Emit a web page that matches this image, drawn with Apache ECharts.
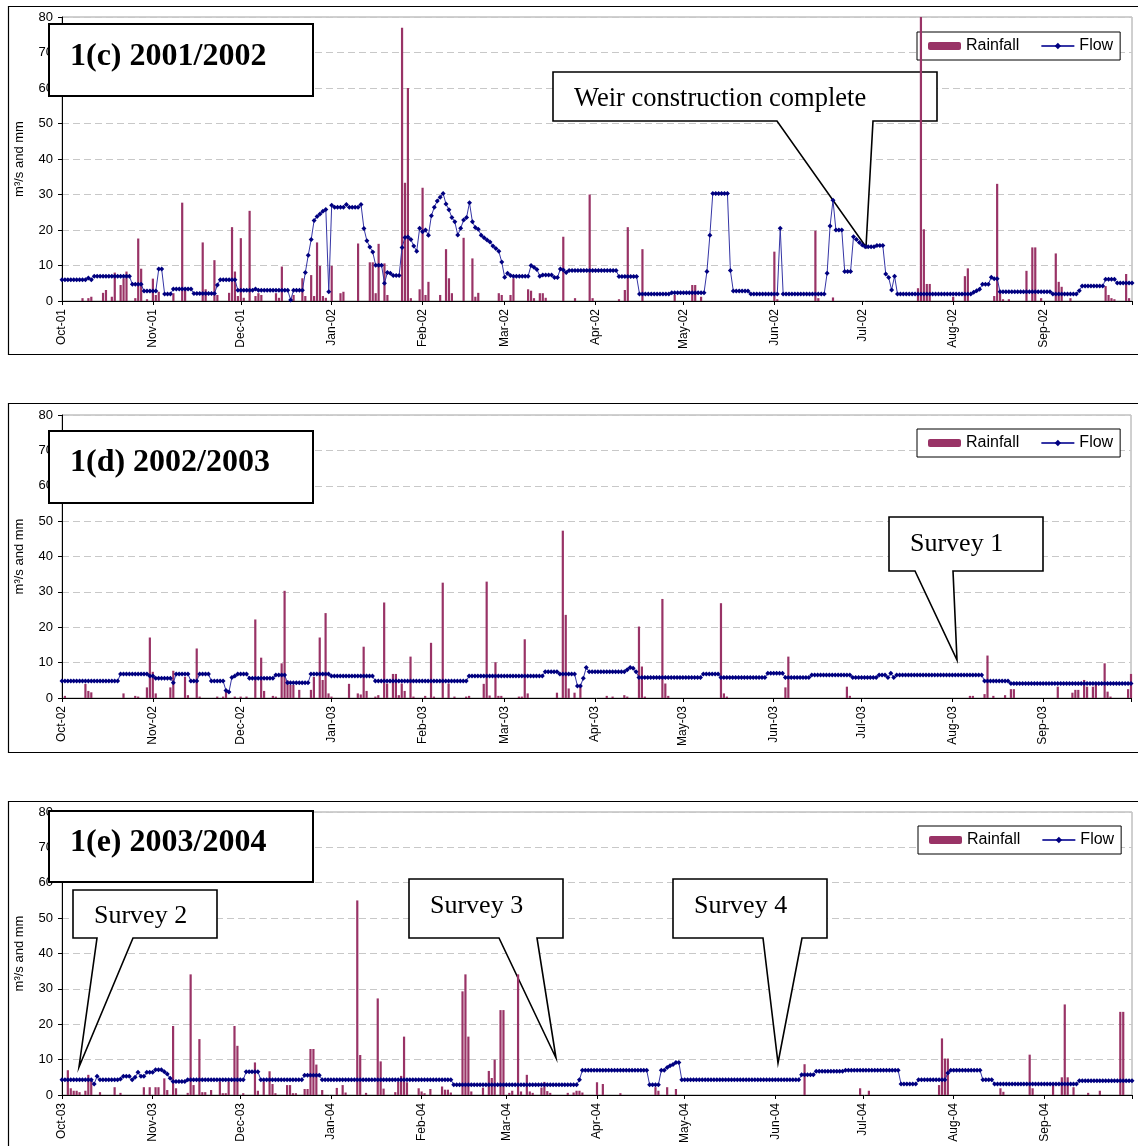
<!DOCTYPE html>
<html>
<head>
<meta charset="utf-8">
<title>Rainfall and flow 2001-2004</title>
<script src="https://cdn.jsdelivr.net/npm/echarts@6/dist/echarts.min.js"></script>
<style>
html, body { margin: 0; padding: 0; background: #fff; overflow: hidden; }
#main { width: 1138px; height: 1146px; }
</style>
</head>
<body>
<div id="main"></div>
<script>
var monthNames = ['Jan', 'Feb', 'Mar', 'Apr', 'May', 'Jun', 'Jul', 'Aug', 'Sep', 'Oct', 'Nov', 'Dec'];
var startYears = [2001, 2002, 2003];
var panelTitles = ['1(c) 2001/2002', '1(d) 2002/2003', '1(e) 2003/2004'];

// flow: [day from 1 Oct, m3/s], the value holds until the next entry
var flow1 = [[0,6.0],[9,6.5],[10,6.0],[11,7.0],[24,4.7],[28,2.8],[33,9.0],[35,2.0],[38,3.4],[45,2.1],[53,4.5],[54,6.0],[60,3.0],[66,3.4],[67,3.0],[78,0.3],[79,3.0],[83,8.0],[84,12.9],[85,17.3],[86,22.7],[87,23.8],[88,24.5],[89,25.3],[90,25.8],[91,2.6],[92,27.0],[93,26.4],[97,27.2],[98,26.4],[102,27.2],[103,20.4],[104,17.0],[105,15.2],[106,13.8],[107,10.1],[110,5.0],[111,8.0],[112,7.8],[113,7.2],[116,15.1],[117,17.9],[118,18.0],[119,17.3],[120,15.5],[121,14.0],[122,20.5],[123,19.5],[124,20.0],[125,18.5],[126,24.0],[127,26.4],[128,28.2],[129,29.2],[130,30.3],[131,27.3],[132,25.7],[133,23.5],[134,22.3],[135,18.6],[136,20.5],[137,22.8],[138,23.5],[139,27.7],[140,22.3],[141,20.7],[142,20.2],[143,18.5],[144,17.8],[145,17.2],[146,16.6],[147,15.5],[148,14.8],[149,14.0],[150,11.0],[151,6.7],[152,7.8],[153,7.2],[154,7.0],[160,10.0],[161,9.5],[162,8.9],[163,7.0],[164,7.3],[168,6.6],[170,9.0],[171,8.7],[172,8.0],[173,8.6],[190,6.9],[197,2.0],[208,2.3],[220,8.3],[221,18.5],[222,30.3],[228,8.6],[229,2.8],[235,2.0],[245,20.5],[246,2.0],[261,7.8],[262,21.1],[263,28.4],[264,20.0],[267,8.3],[270,18.1],[271,17.3],[272,16.5],[273,15.8],[274,15.3],[278,15.6],[281,7.6],[282,6.6],[283,3.1],[284,7.0],[285,2.0],[311,2.5],[312,2.9],[313,3.3],[314,4.7],[317,6.7],[318,6.3],[320,2.6],[338,2.0],[347,2.9],[348,4.2],[356,6.1],[360,5.1]];
var flow2 = [[0,4.8],[20,6.8],[30,6.2],[32,5.6],[38,4.3],[39,6.8],[44,4.8],[47,6.8],[51,4.8],[56,2.1],[57,1.7],[58,5.8],[59,6.2],[60,6.8],[64,5.6],[73,6.5],[77,4.3],[85,6.8],[92,6.2],[107,4.8],[139,6.2],[165,7.4],[170,6.8],[176,3.4],[178,5.6],[179,8.6],[180,7.4],[193,8.0],[194,8.6],[195,8.4],[196,7.4],[197,5.8],[219,6.8],[225,5.8],[241,7.0],[247,5.8],[256,6.5],[270,5.8],[279,6.5],[282,5.8],[283,7.0],[284,5.8],[285,6.5],[315,4.8],[324,4.1]];
var flow3 = [[0,4.3],[11,3.1],[12,5.3],[13,4.3],[20,4.5],[21,5.3],[24,4.3],[25,5.0],[26,6.4],[27,5.3],[29,6.4],[32,7.1],[35,6.6],[36,5.9],[37,4.7],[38,3.8],[43,4.3],[63,6.6],[68,4.3],[83,5.6],[89,4.3],[134,2.9],[177,4.3],[178,7.0],[201,2.9],[205,7.0],[207,7.8],[208,8.3],[209,8.6],[210,9.2],[212,4.3],[253,5.7],[258,6.7],[268,7.0],[287,3.1],[293,4.3],[303,6.2],[304,7.0],[315,4.3],[319,3.1],[348,4.0]];

// rainfall: [day from 1 Oct, mm], days not listed had no rain
var rain1 = [[7,0.8],[9,0.8],[10,1.2],[14,2.3],[15,3.1],[17,1.2],[18,8.0],[20,4.5],[21,6.4],[22,8.3],[25,0.8],[26,17.6],[27,9.1],[29,0.5],[31,6.3],[32,1.7],[33,2.6],[38,2.2],[41,27.7],[42,3.1],[48,16.5],[49,3.3],[52,11.5],[53,1.7],[57,2.3],[58,20.8],[59,8.3],[60,1.4],[61,17.7],[62,0.9],[64,25.4],[66,1.4],[67,2.2],[68,1.7],[73,2.2],[74,0.9],[75,9.7],[79,1.7],[82,6.4],[83,1.4],[85,7.3],[86,1.4],[87,16.5],[88,9.9],[89,1.4],[90,0.9],[92,9.9],[95,2.2],[96,2.6],[101,16.2],[105,10.9],[106,10.9],[107,2.2],[108,16.1],[110,10.6],[111,1.7],[116,77.0],[117,33.3],[118,60.0],[119,0.8],[122,3.3],[123,31.9],[124,1.7],[125,5.4],[129,1.7],[131,14.6],[132,6.4],[133,2.2],[137,17.8],[140,12.0],[141,1.2],[142,2.3],[149,2.2],[150,1.7],[153,1.7],[154,6.4],[159,3.3],[160,2.9],[161,0.8],[163,2.2],[164,2.2],[165,0.9],[171,18.1],[175,0.8],[180,30.0],[181,0.8],[190,0.5],[192,3.1],[193,20.8],[198,14.6],[209,1.7],[215,4.5],[216,4.5],[218,1.2],[243,13.9],[244,0.5],[257,19.8],[258,0.8],[263,1.0],[292,3.6],[293,85.0],[294,20.2],[295,4.8],[296,4.8],[304,1.2],[308,7.0],[309,9.2],[318,1.4],[319,33.0],[320,2.2],[321,0.5],[323,0.5],[329,8.5],[331,15.1],[332,15.1],[334,0.8],[339,13.4],[340,5.4],[341,4.0],[344,0.8],[356,4.2],[357,1.7],[358,0.8],[359,0.5],[363,7.6],[364,0.8]];
var rain2 = [[1,0.6],[8,4.0],[9,2.0],[10,1.6],[21,1.3],[25,0.6],[26,0.4],[29,3.0],[30,17.1],[31,7.4],[32,1.3],[37,3.0],[38,7.7],[42,6.0],[43,0.8],[46,14.0],[47,0.4],[53,0.4],[55,0.4],[56,1.8],[59,0.4],[61,0.4],[63,0.4],[66,22.2],[68,11.4],[69,2.0],[72,0.6],[73,0.4],[75,9.8],[76,30.3],[77,5.0],[78,3.7],[79,3.7],[81,2.3],[85,2.3],[86,6.0],[88,17.1],[89,5.1],[90,24.0],[91,1.3],[92,0.4],[98,4.0],[101,1.3],[102,1.0],[103,14.5],[104,2.0],[107,0.4],[108,0.8],[110,27.0],[111,4.1],[113,6.8],[114,6.8],[115,0.8],[116,4.1],[117,2.0],[119,11.7],[120,0.4],[124,0.6],[126,15.6],[127,0.4],[130,32.6],[132,4.1],[134,0.4],[138,0.4],[139,0.6],[144,4.0],[145,32.9],[146,0.7],[148,10.1],[149,0.6],[150,0.6],[156,0.4],[157,0.4],[158,16.6],[159,1.3],[169,1.5],[171,47.3],[172,23.5],[173,2.7],[175,1.5],[177,3.2],[186,0.6],[188,0.4],[192,0.8],[193,0.4],[197,20.2],[198,8.9],[199,0.4],[205,28.0],[206,4.1],[207,0.6],[225,26.8],[226,1.3],[227,0.4],[247,3.0],[248,11.7],[268,3.2],[269,0.6],[310,0.6],[311,0.6],[315,1.1],[316,12.0],[318,0.6],[322,0.8],[324,2.5],[325,2.5],[340,3.2],[345,1.5],[346,2.3],[347,2.3],[349,5.1],[350,3.2],[352,3.2],[353,3.7],[356,9.8],[357,1.8],[358,0.4],[364,2.5],[365,6.8]];
var rain3 = [[2,7.0],[3,1.9],[4,1.2],[5,1.2],[6,0.8],[8,1.2],[9,5.7],[10,4.0],[13,0.8],[18,2.2],[20,0.6],[28,2.2],[30,2.2],[32,2.2],[33,2.2],[35,4.7],[36,1.4],[38,19.5],[39,1.9],[43,0.6],[44,34.1],[45,2.8],[47,15.8],[48,0.8],[49,0.8],[51,1.4],[54,3.8],[55,0.5],[56,0.5],[57,3.8],[59,19.5],[60,13.9],[62,0.5],[66,9.2],[67,1.2],[69,3.8],[71,6.7],[72,3.1],[73,0.5],[77,2.8],[78,2.8],[79,0.5],[80,0.5],[83,1.7],[84,1.7],[85,13.0],[86,13.0],[87,8.6],[89,1.4],[94,2.0],[96,2.8],[97,0.7],[101,55.0],[102,11.3],[104,0.6],[108,27.3],[109,9.5],[110,1.8],[114,0.8],[115,3.8],[116,5.4],[117,16.5],[118,3.6],[122,1.9],[123,1.0],[124,0.5],[126,1.7],[130,2.4],[131,1.5],[132,1.5],[133,0.7],[137,29.3],[138,34.1],[139,16.5],[140,1.0],[144,2.1],[146,6.8],[147,4.8],[148,10.0],[150,24.0],[151,24.0],[153,0.6],[154,1.2],[156,34.1],[157,1.0],[159,5.7],[160,1.0],[161,0.6],[164,2.1],[165,3.7],[166,1.1],[167,0.6],[173,0.6],[175,0.7],[176,1.2],[177,1.2],[178,0.7],[183,3.6],[185,3.1],[191,0.5],[203,2.2],[204,1.2],[207,2.2],[210,1.7],[254,8.7],[273,1.9],[276,1.2],[300,2.8],[301,16.0],[302,10.3],[303,10.3],[321,1.9],[322,0.9],[331,11.4],[332,1.9],[339,3.1],[342,5.0],[343,25.6],[344,5.0],[346,2.2],[351,0.6],[355,1.2],[362,23.5],[363,23.5]];

var flows = [flow1, flow2, flow3];
var rains = [rain1, rain2, rain3];

function makeDays(startYear) {
    var days = [];
    var t = Date.UTC(startYear, 9, 1);
    var end = Date.UTC(startYear + 1, 9, 1);
    while (t <= end) {
        days.push(new Date(t).toISOString().slice(0, 10));
        t += 86400000;
    }
    return days;
}

function expandFlow(steps, n) {
    var out = [];
    var k = 0;
    for (var i = 0; i < n; i++) {
        while (k + 1 < steps.length && steps[k + 1][0] <= i) k++;
        out.push(steps[k][1]);
    }
    return out;
}

function placeRain(pairs, n) {
    var out = [];
    for (var i = 0; i < n; i++) out.push(0);
    pairs.forEach(function (p) { if (p[0] < n) out[p[0]] = p[1]; });
    return out;
}

function monthLabel(v) {
    return monthNames[+v.slice(5, 7) - 1] + '-' + v.slice(2, 4);
}

var grids = [
    {left: 62, top: 17, width: 1070, height: 284},
    {left: 62, top: 415, width: 1069, height: 283},
    {left: 62, top: 812, width: 1070, height: 284}
];
var legendPos = [{left: 917, top: 32}, {left: 917, top: 429}, {left: 918, top: 826}];

var option = {
    animation: false,
    backgroundColor: '#fff',
    grid: [],
    xAxis: [],
    yAxis: [],
    legend: [],
    series: [],
    graphic: []
};

startYears.forEach(function (y, p) {
    var days = makeDays(y);
    var n = days.length;
    option.grid.push({
        left: grids[p].left, top: grids[p].top, width: grids[p].width, height: grids[p].height,
        show: true, borderColor: '#a0a0a0', borderWidth: 1, backgroundColor: 'transparent'
    });
    option.xAxis.push({
        type: 'category', gridIndex: p, data: days, boundaryGap: false,
        axisLine: {lineStyle: {color: '#000', width: 1}},
        axisTick: {
            length: 4, lineStyle: {color: '#000'},
            interval: function (i, v) { return v.slice(8) === '01'; }
        },
        axisLabel: {
            rotate: 90, margin: 8, fontSize: 12, color: '#000', fontFamily: 'Liberation Sans',
            interval: function (i, v) { return v.slice(8) === '01' && i < n - 1; },
            formatter: monthLabel
        },
        splitLine: {show: false}
    });
    option.yAxis.push({
        type: 'value', gridIndex: p, min: 0, max: 80, interval: 10,
        name: 'm³/s and mm', nameLocation: 'middle', nameGap: 36,
        nameTextStyle: {fontSize: 13, color: '#000', fontFamily: 'Liberation Sans'},
        axisLine: {show: true, lineStyle: {color: '#000', width: 1}},
        axisTick: {show: true, length: 4, lineStyle: {color: '#000'}},
        axisLabel: {margin: 9, fontSize: 13, color: '#000', fontFamily: 'Liberation Sans'},
        splitLine: {show: true, lineStyle: {color: '#c8c8c8', type: [7, 4], width: 1}}
    });
    option.legend.push({
        left: legendPos[p].left, top: legendPos[p].top,
        data: ['Rainfall', 'Flow'],
        orient: 'horizontal', itemGap: 21, itemWidth: 33, itemHeight: 8,
        padding: [6, 7, 6, 11], borderColor: '#000', borderWidth: 1, backgroundColor: '#fff',
        selectedMode: false,
        textStyle: {fontSize: 16, color: '#000', fontFamily: 'Liberation Sans'}
    });
    option.series.push({
        name: 'Rainfall', type: 'bar', xAxisIndex: p, yAxisIndex: p,
        data: placeRain(rains[p], n), barWidth: 2.2, z: 5,
        itemStyle: {color: '#993366'}
    });
    option.series.push({
        name: 'Flow', type: 'line', xAxisIndex: p, yAxisIndex: p,
        data: expandFlow(flows[p], n), z: 6,
        symbol: 'diamond', symbolSize: 5, showAllSymbol: true,
        lineStyle: {color: '#3535a5', width: 1},
        itemStyle: {color: '#000080'}
    });
});

var frames = [[8.5, 6.5, 1140, 348], [8.5, 403.5, 1140, 349], [8.5, 801.5, 1140, 360]];
frames.forEach(function (f) {
    option.graphic.push({type: 'rect', z: 0, shape: {x: f[0], y: f[1], width: f[2], height: f[3]},
        style: {fill: 'none', stroke: '#000', lineWidth: 1.2}});
});

var titleBoxes = [[49, 24, 264, 72, 57], [49, 431, 264, 72, 463], [49, 811, 264, 71, 843]];
titleBoxes.forEach(function (b, i) {
    option.graphic.push({type: 'rect', z: 10, shape: {x: b[0], y: b[1], width: b[2], height: b[3]},
        style: {fill: '#fff', stroke: '#000', lineWidth: 2}});
    option.graphic.push({type: 'text', z: 11, x: 70, y: b[4],
        style: {text: panelTitles[i], font: 'bold 32px "Liberation Serif"', fill: '#000', verticalAlign: 'middle'}});
});

var callouts = [
    {text: 'Weir construction complete', tx: 574, ty: 99, size: 26.5,
        pts: [[553,72],[937,72],[937,121],[873,121],[866,247],[777,121],[553,121]]},
    {text: 'Survey 1', tx: 910, ty: 544, size: 26,
        pts: [[889,517],[1043,517],[1043,571],[953,571],[957,660],[915,571],[889,571]]},
    {text: 'Survey 2', tx: 94, ty: 916, size: 26,
        pts: [[73,890],[217,890],[217,938],[133,938],[79,1067],[97,938],[73,938]]},
    {text: 'Survey 3', tx: 430, ty: 906, size: 26,
        pts: [[409,879],[563,879],[563,938],[537,938],[556,1058],[499,938],[409,938]]},
    {text: 'Survey 4', tx: 694, ty: 906, size: 26,
        pts: [[673,879],[827,879],[827,938],[802,938],[778,1063],[763,938],[673,938]]}
];
callouts.forEach(function (c) {
    option.graphic.push({type: 'polygon', z: 3, shape: {points: c.pts},
        style: {fill: '#fff', stroke: '#000', lineWidth: 1.6}});
    option.graphic.push({type: 'text', z: 3, x: c.tx, y: c.ty,
        style: {text: c.text, font: c.size + 'px "Liberation Serif"', fill: '#000', verticalAlign: 'middle'}});
});

var myChart = echarts.init(document.getElementById('main'));
myChart.setOption(option);
</script>
</body>
</html>
